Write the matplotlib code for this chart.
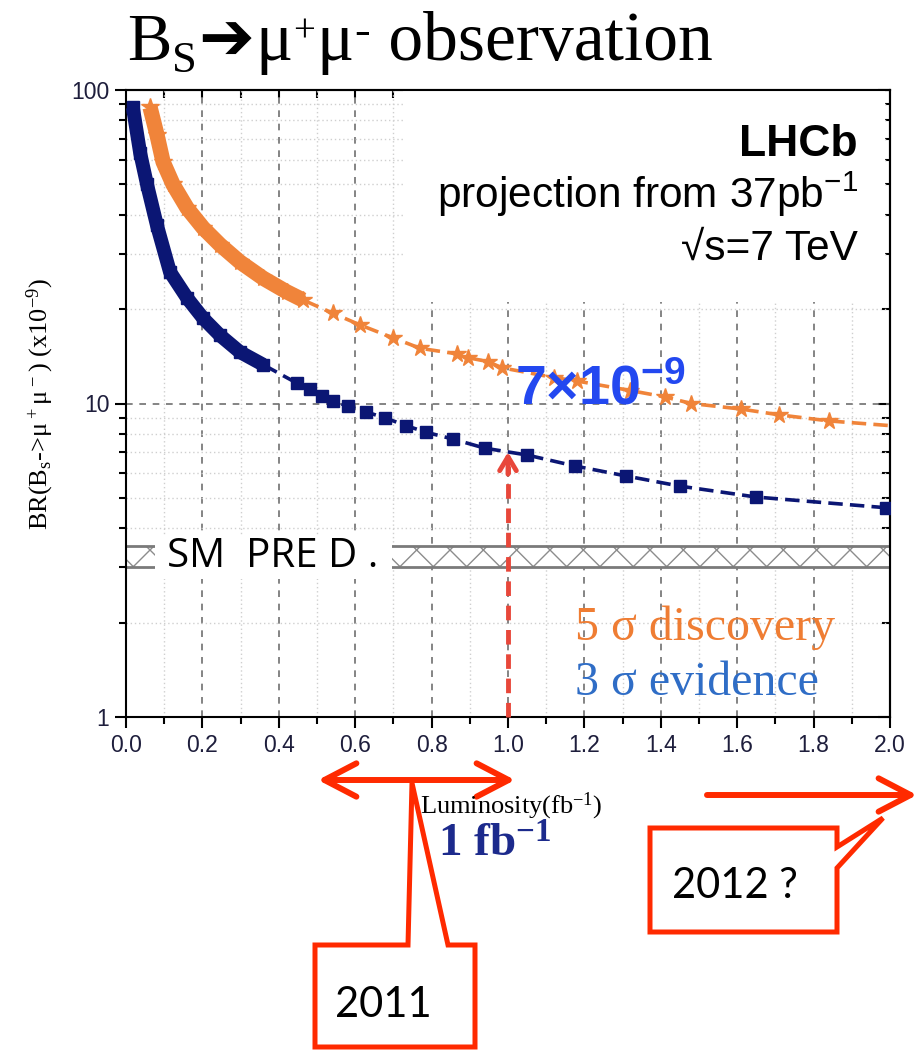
import numpy as np
import matplotlib
matplotlib.use("Agg")
import matplotlib.pyplot as plt
from matplotlib.patches import Rectangle, Polygon, FancyArrowPatch
from matplotlib.ticker import FixedLocator, NullFormatter, NullLocator

plt.rcParams["mathtext.default"] = "regular"

# 3 sigma evidence: luminosity (fb^-1) vs BR (x1e-9)
lumi_3sig = [0.018, 0.037, 0.055, 0.081, 0.115, 0.160, 0.202, 0.246, 0.298, 0.359,
             0.448, 0.482, 0.513, 0.542, 0.581, 0.628, 0.678, 0.733, 0.785, 0.856,
             0.940, 1.05, 1.175, 1.31, 1.45, 1.65, 1.99]
br_3sig = [88, 63, 50, 37, 26.3, 21.7, 18.7, 16.5, 14.6, 13.3,
           11.6, 11.1, 10.6, 10.2, 9.8, 9.4, 9.0, 8.5, 8.1, 7.7,
           7.2, 6.85, 6.32, 5.87, 5.45, 5.03, 4.65]

# 5 sigma discovery
lumi_5sig = [0.063, 0.081, 0.097, 0.123, 0.160, 0.202, 0.246, 0.298, 0.359, 0.421,
             0.463, 0.542, 0.613, 0.699, 0.770, 0.866, 0.895, 0.948, 0.984, 1.12,
             1.18, 1.32, 1.41, 1.48, 1.61, 1.71, 1.84, 2.0]
br_5sig = [88, 72, 59, 50, 42, 36.3, 32.1, 28.3, 25.1, 22.7,
           21.4, 19.4, 17.8, 16.2, 15.0, 14.4, 14.0, 13.6, 13.0, 12.1,
           11.8, 11.0, 10.5, 10.0, 9.6, 9.2, 8.8, 8.5]

# SM prediction band
sm_low, sm_high = 3.0, 3.5

# 1 fb^-1 reach
target_lumi = 1.0
target_br = 7.0

x_ticks = [0.0, 0.2, 0.4, 0.6, 0.8, 1.0, 1.2, 1.4, 1.6, 1.8, 2.0]
y_ticks = [1, 10, 100]
y_minor = [2, 3, 4, 5, 6, 7, 8, 9, 20, 30, 40, 50, 60, 70, 80, 90]

navy = "#0b1674"
orange = "#f0843a"
red = "#ff2a00"
arrow_red = "#e8473a"

W, H = 921, 1052


def fpx(x, y):
    return x / W, 1 - y / H


fig = plt.figure(figsize=(W / 100, H / 100), dpi=100)
ax = fig.add_axes([126 / W, 1 - 717 / H, 764 / W, 627 / H])

ax.set_xlim(0, 2)
ax.set_yscale("log")
ax.set_ylim(1, 100)

ax.xaxis.set_major_locator(FixedLocator(x_ticks))
ax.xaxis.set_minor_locator(FixedLocator(np.arange(0.1, 2.0, 0.2)))
ax.set_xticklabels([f"{v:.1f}" for v in x_ticks])
ax.yaxis.set_major_locator(FixedLocator(y_ticks))
ax.yaxis.set_minor_locator(FixedLocator(y_minor))
ax.yaxis.set_minor_formatter(NullFormatter())
ax.set_yticklabels([str(v) for v in y_ticks])

for lab in ax.get_xticklabels() + ax.get_yticklabels():
    lab.set_fontfamily("Liberation Sans")
    lab.set_fontsize(16.5)
    lab.set_color("#1e1e3c")
ax.tick_params(which="major", direction="out", length=8, width=1.5, pad=4)
ax.tick_params(which="minor", direction="out", length=5, width=1.5)
for sp in ax.spines.values():
    sp.set_linewidth(1.5)

# grid
ax.set_axisbelow(True)
ax.grid(which="major", ls=(0, (4, 4)), color="#707070", lw=1.2)
ax.grid(which="minor", ls=(0, (1, 2)), color="#cfcfcf", lw=1.0)

# top / right ticks pointing inside
top = ax.secondary_xaxis("top")
top.xaxis.set_major_locator(FixedLocator(np.arange(0.1, 0.75, 0.1)))
top.xaxis.set_minor_locator(NullLocator())
top.tick_params(direction="in", length=6, width=1.5, labeltop=False)
right = ax.secondary_yaxis("right")
right.yaxis.set_major_locator(FixedLocator(y_ticks))
right.yaxis.set_minor_locator(FixedLocator(y_minor))
right.tick_params(which="major", direction="in", length=9, width=1.5, labelright=False)
right.tick_params(which="minor", direction="in", length=6, width=1.5, labelright=False)
right.yaxis.set_minor_formatter(NullFormatter())
for sec in (top, right):
    for sp in sec.spines.values():
        sp.set_linewidth(1.5)

# white panel behind the LHCb labels
ax.add_patch(Rectangle((0.362, 0.662), 0.632, 0.34, transform=ax.transAxes,
                       facecolor="white", edgecolor="none", zorder=1))

# SM band
ax.fill_between([0, 2], sm_low, sm_high, facecolor="white", edgecolor="#8c8c8c",
                hatch="x", lw=0, zorder=1.5)
ax.hlines([sm_low, sm_high], 0, 2, color="#7a7a7a", lw=2, zorder=1.6)
ax.add_patch(Rectangle((0.076, 2.75), 0.62, 1.05, facecolor="white",
                       edgecolor="none", zorder=1.7))
ax.text(0.107, (sm_low * sm_high) ** 0.5, "SM  PRE D .", family="Open Sans",
        fontsize=29, va="center", ha="left", zorder=1.8)

# curves: dense part drawn as a thick band, rest as dashed line + markers
k3 = 10
ax.plot(lumi_3sig[:k3], br_3sig[:k3], color=navy, lw=10, solid_capstyle="butt", zorder=3)
ax.plot(lumi_3sig, br_3sig, color=navy, ls=(0, (4, 2)), lw=2.6, marker="s", ms=8,
        zorder=3)
k5 = 11
ax.plot(lumi_5sig[:k5], br_5sig[:k5], color=orange, lw=11, solid_capstyle="butt", zorder=3)
ax.plot(lumi_5sig, br_5sig, color=orange, ls=(0, (4, 2)), lw=2.6, marker="*", ms=13,
        markevery=list(range(len(lumi_5sig) - 1)), zorder=3)

# dashed arrow up to the 3 sigma curve at 1 fb^-1
ax.plot([target_lumi, target_lumi], [1, target_br * 0.9], color=arrow_red, lw=3.5,
        ls=(0, (3, 2)), zorder=4, clip_on=False)
ax.annotate("", xy=(target_lumi, target_br), xytext=(target_lumi, target_br * 0.85),
            arrowprops=dict(arrowstyle="->,head_length=1.0,head_width=0.6",
                            color=arrow_red, lw=3.5, shrinkA=0, shrinkB=0), zorder=4)

ax.text(1.018, 9.9, f"{target_br:g}×10$^{{-9}}$", color="#2348f0",
        family="Liberation Sans", weight="bold", fontsize=40, ha="left",
        va="baseline", zorder=5)

# LHCb labels
ax.text(0.958, 0.895, "LHCb", transform=ax.transAxes, family="Liberation Sans",
        weight="bold", fontsize=32, ha="right", va="baseline", zorder=5)
ax.text(0.958, 0.812, "projection from 37pb$^{-1}$", transform=ax.transAxes,
        family="Liberation Sans", fontsize=30.5, ha="right", va="baseline", zorder=5)
ax.text(0.958, 0.729, "√s=7 TeV", transform=ax.transAxes,
        family="Liberation Sans", fontsize=30.5, ha="right", va="baseline", zorder=5)

# legend text
ax.text(1.175, 1.76, "5 σ discovery", color="#ef7d33", family="Liberation Serif",
        fontsize=34.5, ha="left", va="baseline", zorder=5)
ax.text(1.175, 1.175, "3 σ evidence", color="#2f6dc6", family="Liberation Serif",
        fontsize=34.5, ha="left", va="baseline", zorder=5)

# axis titles
fig.text(*fpx(40, 404), "BR(B$_s$->μ$^+$μ$^-$) (x10$^{-9}$)", rotation=90,
         family="Liberation Serif", fontsize=19, ha="center", va="center")
fig.text(*fpx(420, 813), "Luminosity(fb$^{-1}$)", family="Liberation Serif",
         fontsize=19, ha="left", va="baseline")
fig.text(*fpx(438, 857), f"{target_lumi:g} fb$^{{-1}}$", family="Liberation Serif",
         weight="bold", fontsize=34, color="#1c2a8c", ha="left", va="baseline")

# title built from pieces: (text, family, size, baseline shift in px)
renderer = fig.canvas.get_renderer()
tx, ty = 127, 60
pieces = [("B", "Liberation Serif", 48, 0),
          ("S", "Liberation Serif", 32, -12),
          ("➔", "DejaVu Sans", 48, 1),
          ("μ", "Liberation Serif", 50, 0),
          ("+", "Liberation Serif", 28, 19),
          ("μ", "Liberation Serif", 50, 0),
          ("-", "Liberation Serif", 34, 16),
          (" observation", "Liberation Serif", 50, 0)]
for s, fam, size, dy in pieces:
    t = fig.text(*fpx(tx, ty - dy), s, family=fam, fontsize=size,
                 ha="left", va="baseline")
    bb = t.get_window_extent(renderer=renderer)
    tx = bb.x1 + 1

# red year markers below the axis
fig.add_artist(FancyArrowPatch(fpx(318, 780), fpx(515, 780), transform=fig.transFigure,
                               arrowstyle="<->,head_length=1.15,head_width=0.6",
                               mutation_scale=20, lw=4.3, color=red,
                               shrinkA=0, shrinkB=0, capstyle="round",
                               joinstyle="round"))
fig.add_artist(FancyArrowPatch(fpx(707, 795), fpx(917, 795), transform=fig.transFigure,
                               arrowstyle="->,head_length=1.15,head_width=0.6",
                               mutation_scale=20, lw=4.3, color=red,
                               shrinkA=0, shrinkB=0, capstyle="round",
                               joinstyle="round"))

box_2011 = [(315, 945), (408, 945), (412, 783), (448, 945), (475, 945),
            (475, 1047), (315, 1047)]
box_2012 = [(650, 828), (837, 828), (837, 847), (883, 818), (837, 868),
            (837, 932), (650, 932)]
for pts in (box_2011, box_2012):
    fig.add_artist(Polygon([fpx(*p) for p in pts], closed=True, transform=fig.transFigure,
                           facecolor="white", edgecolor=red, lw=3.6, joinstyle="miter"))

fig.text(*fpx(335, 1017), "2011", family="Lato", fontsize=30, ha="left", va="baseline")
fig.text(*fpx(672, 898), "2012 ?", family="Lato", fontsize=30, ha="left", va="baseline")

fig.savefig("out.png", dpi=100)
